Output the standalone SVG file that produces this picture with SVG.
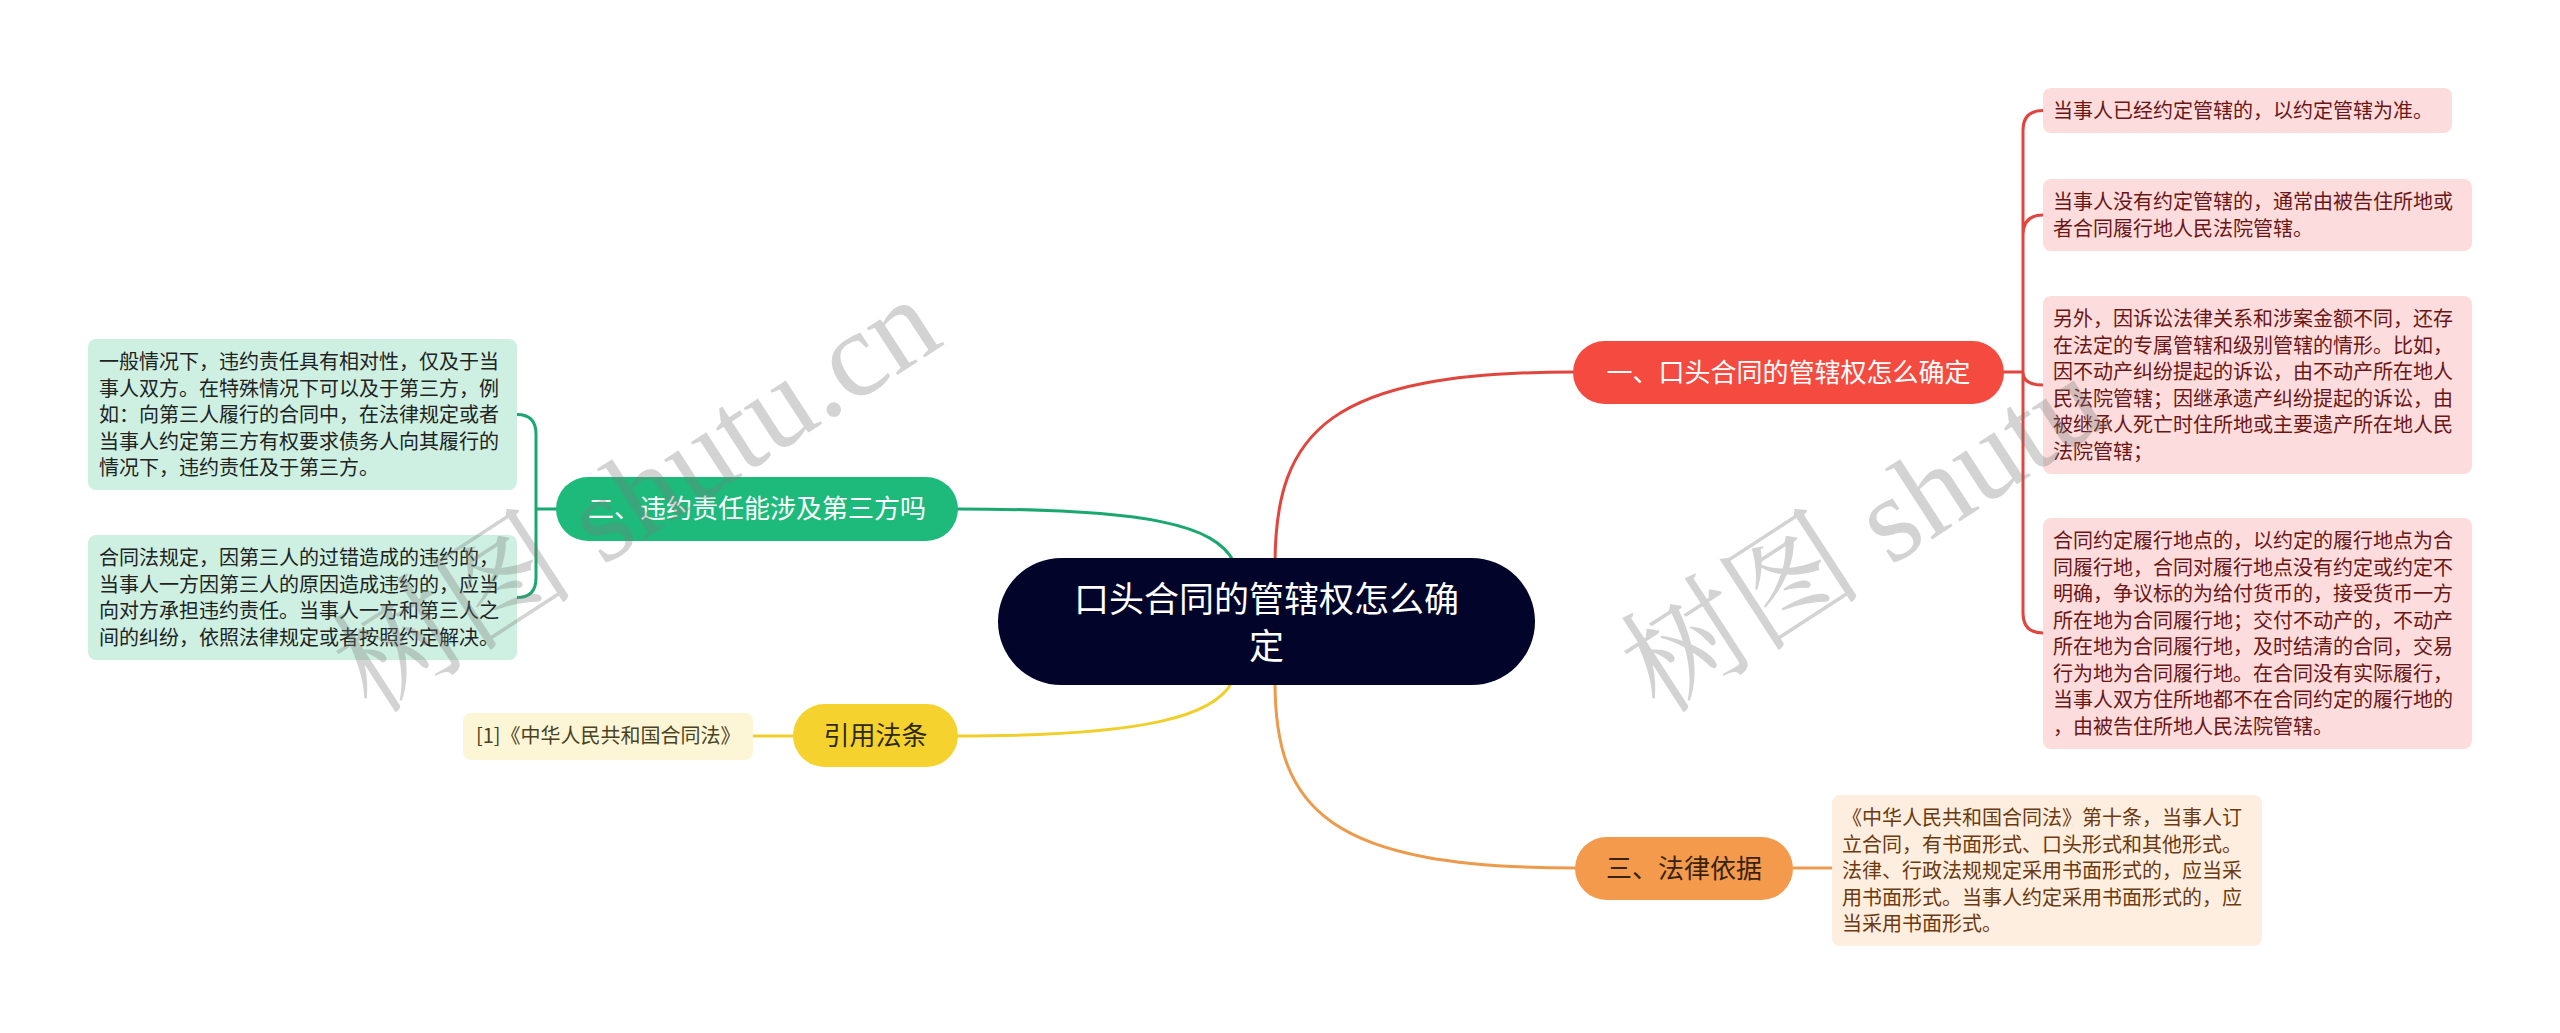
<svg xmlns="http://www.w3.org/2000/svg" width="2560" height="1033" viewBox="0 0 2560 1033">
<style>
text{font-family:"Noto Sans CJK SC","Noto Sans",sans-serif;}
.leaf{font-size:20px;}
.br{font-size:26px;text-anchor:middle;}
.conn{fill:none;stroke-width:3;stroke-linecap:round;}
.wm{font-family:"Liberation Serif","Noto Serif CJK SC","Noto Sans CJK SC",serif;font-size:122px;fill:#7a7a7a;opacity:0.32;}
</style>
<rect width="2560" height="1033" fill="#ffffff"/>
<g id="connectors">
<path class="conn" stroke="#e0463e" d="M1275,565 C1275,430 1330,372 1573,372"/>
<path class="conn" stroke="#1aa870" d="M1234,562 C1215,525 1150,509 958,509"/>
<path class="conn" stroke="#f0cf2a" d="M1232,682 C1215,715 1150,736 958,736"/>
<path class="conn" stroke="#ec9a4c" d="M1275,682 C1275,810 1330,868 1575,868"/>
<path class="conn" stroke="#e0463e" d="M2004,372 H2023 M2023,372 V130 Q2023,110.5 2043,110.5 M2023,372 V235 Q2023,215 2043,215 M2023,372 Q2023,385 2043,385 M2023,372 V613 Q2023,633 2043,633"/>
<path class="conn" stroke="#1aa870" d="M556,509 H536 M536,509 V434 Q536,414.5 517,414.5 M536,509 V578 Q536,597.5 517,597.5"/>
<path class="conn" stroke="#ec9a4c" d="M1793,868 H1832"/>
<path class="conn" stroke="#f0cf2a" d="M793,736 H753"/>
</g>
<g id="root">
<rect x="998" y="558" width="537" height="127" rx="63.5" fill="#03042a"/>
<text x="1266.5" y="612" font-size="35" fill="#ffffff" text-anchor="middle">口头合同的管辖权怎么确</text>
<text x="1266.5" y="659" font-size="35" fill="#ffffff" text-anchor="middle">定</text>
</g>
<g id="branch1">
<rect x="1573" y="341" width="431" height="63" rx="31.5" fill="#f44a40"/>
<text class="br" x="1788.5" y="382" fill="#ffffff">一、口头合同的管辖权怎么确定</text>
</g>
<g id="branch2">
<rect x="556" y="477" width="402" height="64" rx="32" fill="#1dba7c"/>
<text class="br" x="757" y="518" fill="#ffffff">二、违约责任能涉及第三方吗</text>
</g>
<g id="branch3">
<rect x="1575" y="837" width="218" height="63" rx="31.5" fill="#f39a4c"/>
<text class="br" x="1684" y="878" fill="#3a2210">三、法律依据</text>
</g>
<g id="branch4">
<rect x="793" y="704" width="165" height="63" rx="31.5" fill="#f5d22e"/>
<text class="br" x="875.5" y="745" fill="#2e2a12">引用法条</text>
</g>
<g id="leaf1">
<rect x="2043" y="88" width="409" height="45" rx="8" fill="#fcdcdc"/>
<text class="leaf" fill="#6b1616" x="2053" y="118">当事人已经约定管辖的，以约定管辖为准。</text>
</g>
<g id="leaf2">
<rect x="2043" y="179" width="429" height="72" rx="8" fill="#fcdcdc"/>
<text class="leaf" fill="#6b1616" x="2053" y="209">当事人没有约定管辖的，通常由被告住所地或</text>
<text class="leaf" fill="#6b1616" x="2053" y="235.5">者合同履行地人民法院管辖。</text>
</g>
<g id="leaf3">
<rect x="2043" y="296" width="429" height="178" rx="8" fill="#fcdcdc"/>
<text class="leaf" fill="#6b1616" x="2053" y="326">另外，因诉讼法律关系和涉案金额不同，还存</text>
<text class="leaf" fill="#6b1616" x="2053" y="352.5">在法定的专属管辖和级别管辖的情形。比如，</text>
<text class="leaf" fill="#6b1616" x="2053" y="379">因不动产纠纷提起的诉讼，由不动产所在地人</text>
<text class="leaf" fill="#6b1616" x="2053" y="405.5">民法院管辖；因继承遗产纠纷提起的诉讼，由</text>
<text class="leaf" fill="#6b1616" x="2053" y="432">被继承人死亡时住所地或主要遗产所在地人民</text>
<text class="leaf" fill="#6b1616" x="2053" y="458.5">法院管辖；</text>
</g>
<g id="leaf4">
<rect x="2043" y="518" width="429" height="231" rx="8" fill="#fcdcdc"/>
<text class="leaf" fill="#6b1616" x="2053" y="548">合同约定履行地点的，以约定的履行地点为合</text>
<text class="leaf" fill="#6b1616" x="2053" y="574.5">同履行地，合同对履行地点没有约定或约定不</text>
<text class="leaf" fill="#6b1616" x="2053" y="601">明确，争议标的为给付货币的，接受货币一方</text>
<text class="leaf" fill="#6b1616" x="2053" y="627.5">所在地为合同履行地；交付不动产的，不动产</text>
<text class="leaf" fill="#6b1616" x="2053" y="654">所在地为合同履行地，及时结清的合同，交易</text>
<text class="leaf" fill="#6b1616" x="2053" y="680.5">行为地为合同履行地。在合同没有实际履行，</text>
<text class="leaf" fill="#6b1616" x="2053" y="707">当事人双方住所地都不在合同约定的履行地的</text>
<text class="leaf" fill="#6b1616" x="2053" y="733.5">，由被告住所地人民法院管辖。</text>
</g>
<g id="leaf5">
<rect x="1832" y="795" width="430" height="151" rx="8" fill="#fdeedf"/>
<text class="leaf" fill="#6b3a10" x="1842" y="825">《中华人民共和国合同法》第十条，当事人订</text>
<text class="leaf" fill="#6b3a10" x="1842" y="851.5">立合同，有书面形式、口头形式和其他形式。</text>
<text class="leaf" fill="#6b3a10" x="1842" y="878">法律、行政法规规定采用书面形式的，应当采</text>
<text class="leaf" fill="#6b3a10" x="1842" y="904.5">用书面形式。当事人约定采用书面形式的，应</text>
<text class="leaf" fill="#6b3a10" x="1842" y="931">当采用书面形式。</text>
</g>
<g id="leaf6">
<rect x="88" y="339" width="429" height="151" rx="8" fill="#cdf0e2"/>
<text class="leaf" fill="#222222" x="99" y="369">一般情况下，违约责任具有相对性，仅及于当</text>
<text class="leaf" fill="#222222" x="99" y="395.5">事人双方。在特殊情况下可以及于第三方，例</text>
<text class="leaf" fill="#222222" x="99" y="422">如：向第三人履行的合同中，在法律规定或者</text>
<text class="leaf" fill="#222222" x="99" y="448.5">当事人约定第三方有权要求债务人向其履行的</text>
<text class="leaf" fill="#222222" x="99" y="475">情况下，违约责任及于第三方。</text>
</g>
<g id="leaf7">
<rect x="88" y="535" width="429" height="125" rx="8" fill="#cdf0e2"/>
<text class="leaf" fill="#222222" x="99" y="565">合同法规定，因第三人的过错造成的违约的，</text>
<text class="leaf" fill="#222222" x="99" y="591.5">当事人一方因第三人的原因造成违约的，应当</text>
<text class="leaf" fill="#222222" x="99" y="618">向对方承担违约责任。当事人一方和第三人之</text>
<text class="leaf" fill="#222222" x="99" y="644.5">间的纠纷，依照法律规定或者按照约定解决。</text>
</g>
<g id="leaf8">
<rect x="463" y="713" width="290" height="47" rx="8" fill="#fdf6d6"/>
<text class="leaf" fill="#4a4222" x="476" y="743">[1]《中华人民共和国合同法》</text>
</g>
<g id="watermarks">
<text class="wm" transform="translate(372,716) rotate(-33)">树图 shutu.cn</text>
<text class="wm" transform="translate(1660,716) rotate(-33)">树图 shutu</text>
</g>
</svg>
